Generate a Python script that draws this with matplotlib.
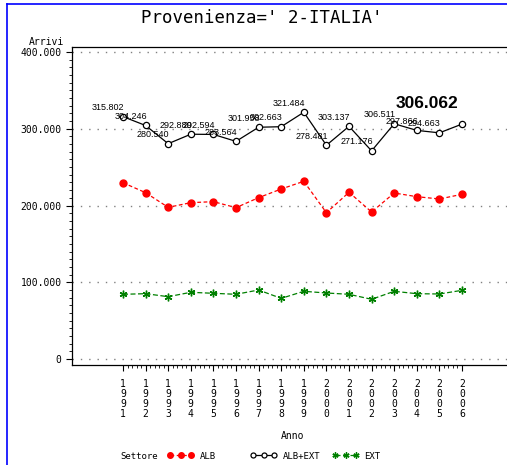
import matplotlib
matplotlib.use("Agg")
import matplotlib.pyplot as plt
from matplotlib.lines import Line2D
from matplotlib.ticker import MultipleLocator, FixedLocator

# Data (thousands of arrivals)
years = list(range(1991, 2007))
alb_ext = [315.802, 304.246, 280.540, 292.880, 292.594, 283.564, 301.958, 302.663,
           321.484, 278.481, 303.137, 271.176, 306.511, 297.866, 294.663, 306.062]
alb = [229.7, 216.7, 197.6, 203.7, 205.0, 197.2, 210.2, 221.5,
       231.5, 190.6, 217.2, 191.5, 216.3, 211.5, 208.5, 214.6]
ext = [84.3, 85.1, 81.2, 86.9, 85.6, 84.3, 89.9, 79.0,
       88.2, 86.0, 84.3, 77.8, 88.2, 85.1, 84.7, 89.5]
point_labels = ["315.802", "304.246", "280.540", "292.880", "292.594", "283.564",
                "301.958", "302.663", "321.484", "278.481", "303.137", "271.176",
                "306.511", "297.866", "294.663", "306.062"]
y_ticks = [0, 100, 200, 300, 400]
y_tick_labels = ["0", "100.000", "200.000", "300.000", "400.000"]

W, H = 507, 465
fig = plt.figure(figsize=(W / 100, H / 100), dpi=100)

# axes placed in pixel terms (right edge runs past the image like the reference)
left, right, top, bottom = 72, 520, 47, 365
ax = fig.add_axes([left / W, 1 - bottom / H, (right - left) / W, (bottom - top) / H])

mono = "DejaVu Sans Mono"

l_alb, = ax.plot(years, alb, color="red", linestyle=(0, (3, 2)), linewidth=0.9,
                 marker="o", markersize=5, markeredgecolor="red", label="ALB")
l_tot, = ax.plot(years, alb_ext, color="black", linewidth=0.9,
                 marker="o", markersize=4.5, markerfacecolor="white", markeredgewidth=0.9,
                 label="ALB+EXT")
l_ext, = ax.plot(years, ext, color="green", linestyle=(0, (4, 2)), linewidth=0.9,
                 marker=(6, 2, 0), markersize=5.5, markeredgewidth=1.0, label="EXT")

# point labels on the total series
for x, y, lab in zip(years[:-1], alb_ext[:-1], point_labels[:-1]):
    ax.annotate(lab, (x, y), xytext=(-15, 9), textcoords="offset pixels",
                ha="center", va="center", fontsize=6.5, family="Liberation Sans")
ax.annotate(point_labels[-1], (years[-1], alb_ext[-1]), xytext=(-35, 21),
            textcoords="offset pixels", ha="center", va="center",
            fontsize=12.5, fontweight="bold", family="Liberation Sans")

x_per_px = 15 / (462 - 123)
ax.set_xlim(1991 - (123 - left) * x_per_px, 2006 + (right - 462) * x_per_px)
ax.set_ylim(-6 * 400 / 307, 400 + 5 * 400 / 307)

ax.set_xticks(years)
ax.set_xticklabels(["\n".join(str(y)) for y in years], family=mono,
                   fontsize=7, linespacing=1.0)
ax.xaxis.set_minor_locator(FixedLocator([1991 + i * 0.2 for i in range(76)]))
ax.set_yticks(y_ticks)
ax.set_yticklabels(y_tick_labels, family=mono, fontsize=7)
ax.yaxis.set_minor_locator(MultipleLocator(10))
ax.tick_params(axis="both", which="major", direction="out", length=4, width=0.8)
ax.tick_params(axis="both", which="minor", direction="out", length=2.5, width=0.6)
ax.tick_params(axis="x", pad=6)

for yv in y_ticks:
    ax.axhline(yv, color="gray", linestyle=(0, (1, 5)), linewidth=1.0, zorder=0)

ax.spines["right"].set_visible(False)
for s in ["left", "top", "bottom"]:
    ax.spines[s].set_linewidth(0.9)

ax.set_xlabel("Anno", family=mono, fontsize=7)
ax.xaxis.set_label_coords((293 - left) / (right - left), -(431 - bottom) / (bottom - top))
fig.text(64 / W, 1 - 42 / H, "Arrivi", family=mono, fontsize=7, ha="right", va="center")

fig.text(262 / W, 1 - 18 / H, "Provenienza=' 2-ITALIA'", family=mono, fontsize=12.5,
         ha="center", va="center")

# legend row: one small legend per series, at fixed column positions
fig.text(120 / W, 1 - 456 / H, "Settore", family=mono, fontsize=6.5, va="center")
for handle, x0 in zip([l_alb, l_tot, l_ext], [167, 250, 332]):
    fig.legend(handles=[handle], loc="center left",
               bbox_to_anchor=(x0 / W, 1 - 456 / H), frameon=False,
               numpoints=3, handlelength=3.0, handletextpad=0.6,
               prop={"family": mono, "size": 6.5}, markerscale=0.8,
               borderpad=0, borderaxespad=0)

# blue frame lines (left and top)
fig.add_artist(Line2D([7 / W, 7 / W], [0, 1 - 4 / H], color="blue", linewidth=1.2,
                      transform=fig.transFigure))
fig.add_artist(Line2D([7 / W, 1], [1 - 4 / H, 1 - 4 / H], color="blue", linewidth=1.2,
                      transform=fig.transFigure))

fig.savefig("out.png", dpi=100)
